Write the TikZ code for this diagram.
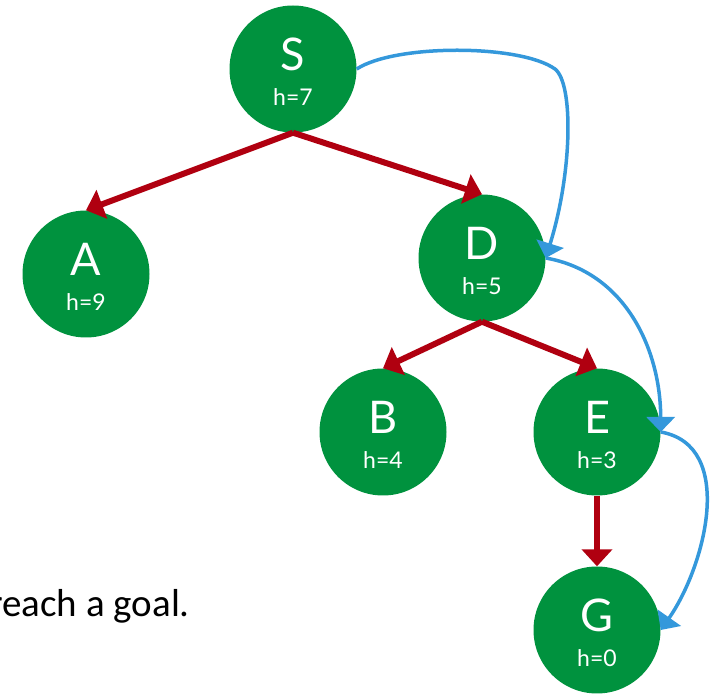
\documentclass[tikz,border=0pt]{standalone}
\usepackage{fontspec}
\usetikzlibrary{arrows.meta}
\setmainfont{Lato}
\newfontfamily\notefont{Carlito}
\definecolor{treeGreen}{RGB}{0,146,62}
\definecolor{treeRed}{RGB}{176,0,16}
\definecolor{pathBlue}{RGB}{52,152,219}
\newcommand{\hval}[1]{{\fontsize{23}{23}\selectfont h=#1}}

\begin{document}
\begin{tikzpicture}[x = 1pt, y = 1pt,
  vertex/.style = {circle, fill = treeGreen, minimum size = 127pt, inner sep = 0pt,
    text = white, align = center, font = \fontsize{45}{35}\selectfont},
  tree edge/.style = {-{Triangle[width = 30pt, length = 17pt]}, line width = 6pt, treeRed},
  search path/.style = {-{Triangle[width = 28pt, length = 15pt]}, line width = 3.5pt, pathBlue}]
\useasboundingbox (0, 0) rectangle (721, 694);

\node[vertex] (S) at (293, 625) {\rule{0pt}{39pt}S\\\hval{7}};
\node[vertex] (A) at (86, 420) {\rule{0pt}{39pt}A\\\hval{9}};
\node[vertex] (D) at (482, 436) {\rule{0pt}{39pt}D\\\hval{5}};
\node[vertex] (B) at (383, 262) {\rule{0pt}{39pt}B\\\hval{4}};
\node[vertex] (E) at (597, 262) {\rule{0pt}{39pt}E\\\hval{3}};
\node[vertex] (G) at (597, 64) {\rule{0pt}{39pt}G\\\hval{0}};

\draw[tree edge] (S.south) -- (A.north);
\draw[tree edge] (S.south) -- (D.north);
\draw[tree edge] (D.south) -- (B.north);
\draw[tree edge] (D.south) -- (E.north);
\draw[tree edge] (E.south) -- (G.north);

% order of expansion
\draw[search path] (S.east) .. controls (395, 650) and (520, 650) .. (555, 625)
  .. controls (574, 610) and (572, 520) .. (D.east);
\draw[search path] (D.east) to[out = -10, in = 90] (E.east);
\draw[search path] (E.east) to[out = -10, in = 55] (G.east);

\node[anchor = base west, inner sep = 0pt, font = \notefont\fontsize{39}{39}\selectfont]
  (note) at (-11, 77) {reach a goal.};
\end{tikzpicture}
\end{document}
